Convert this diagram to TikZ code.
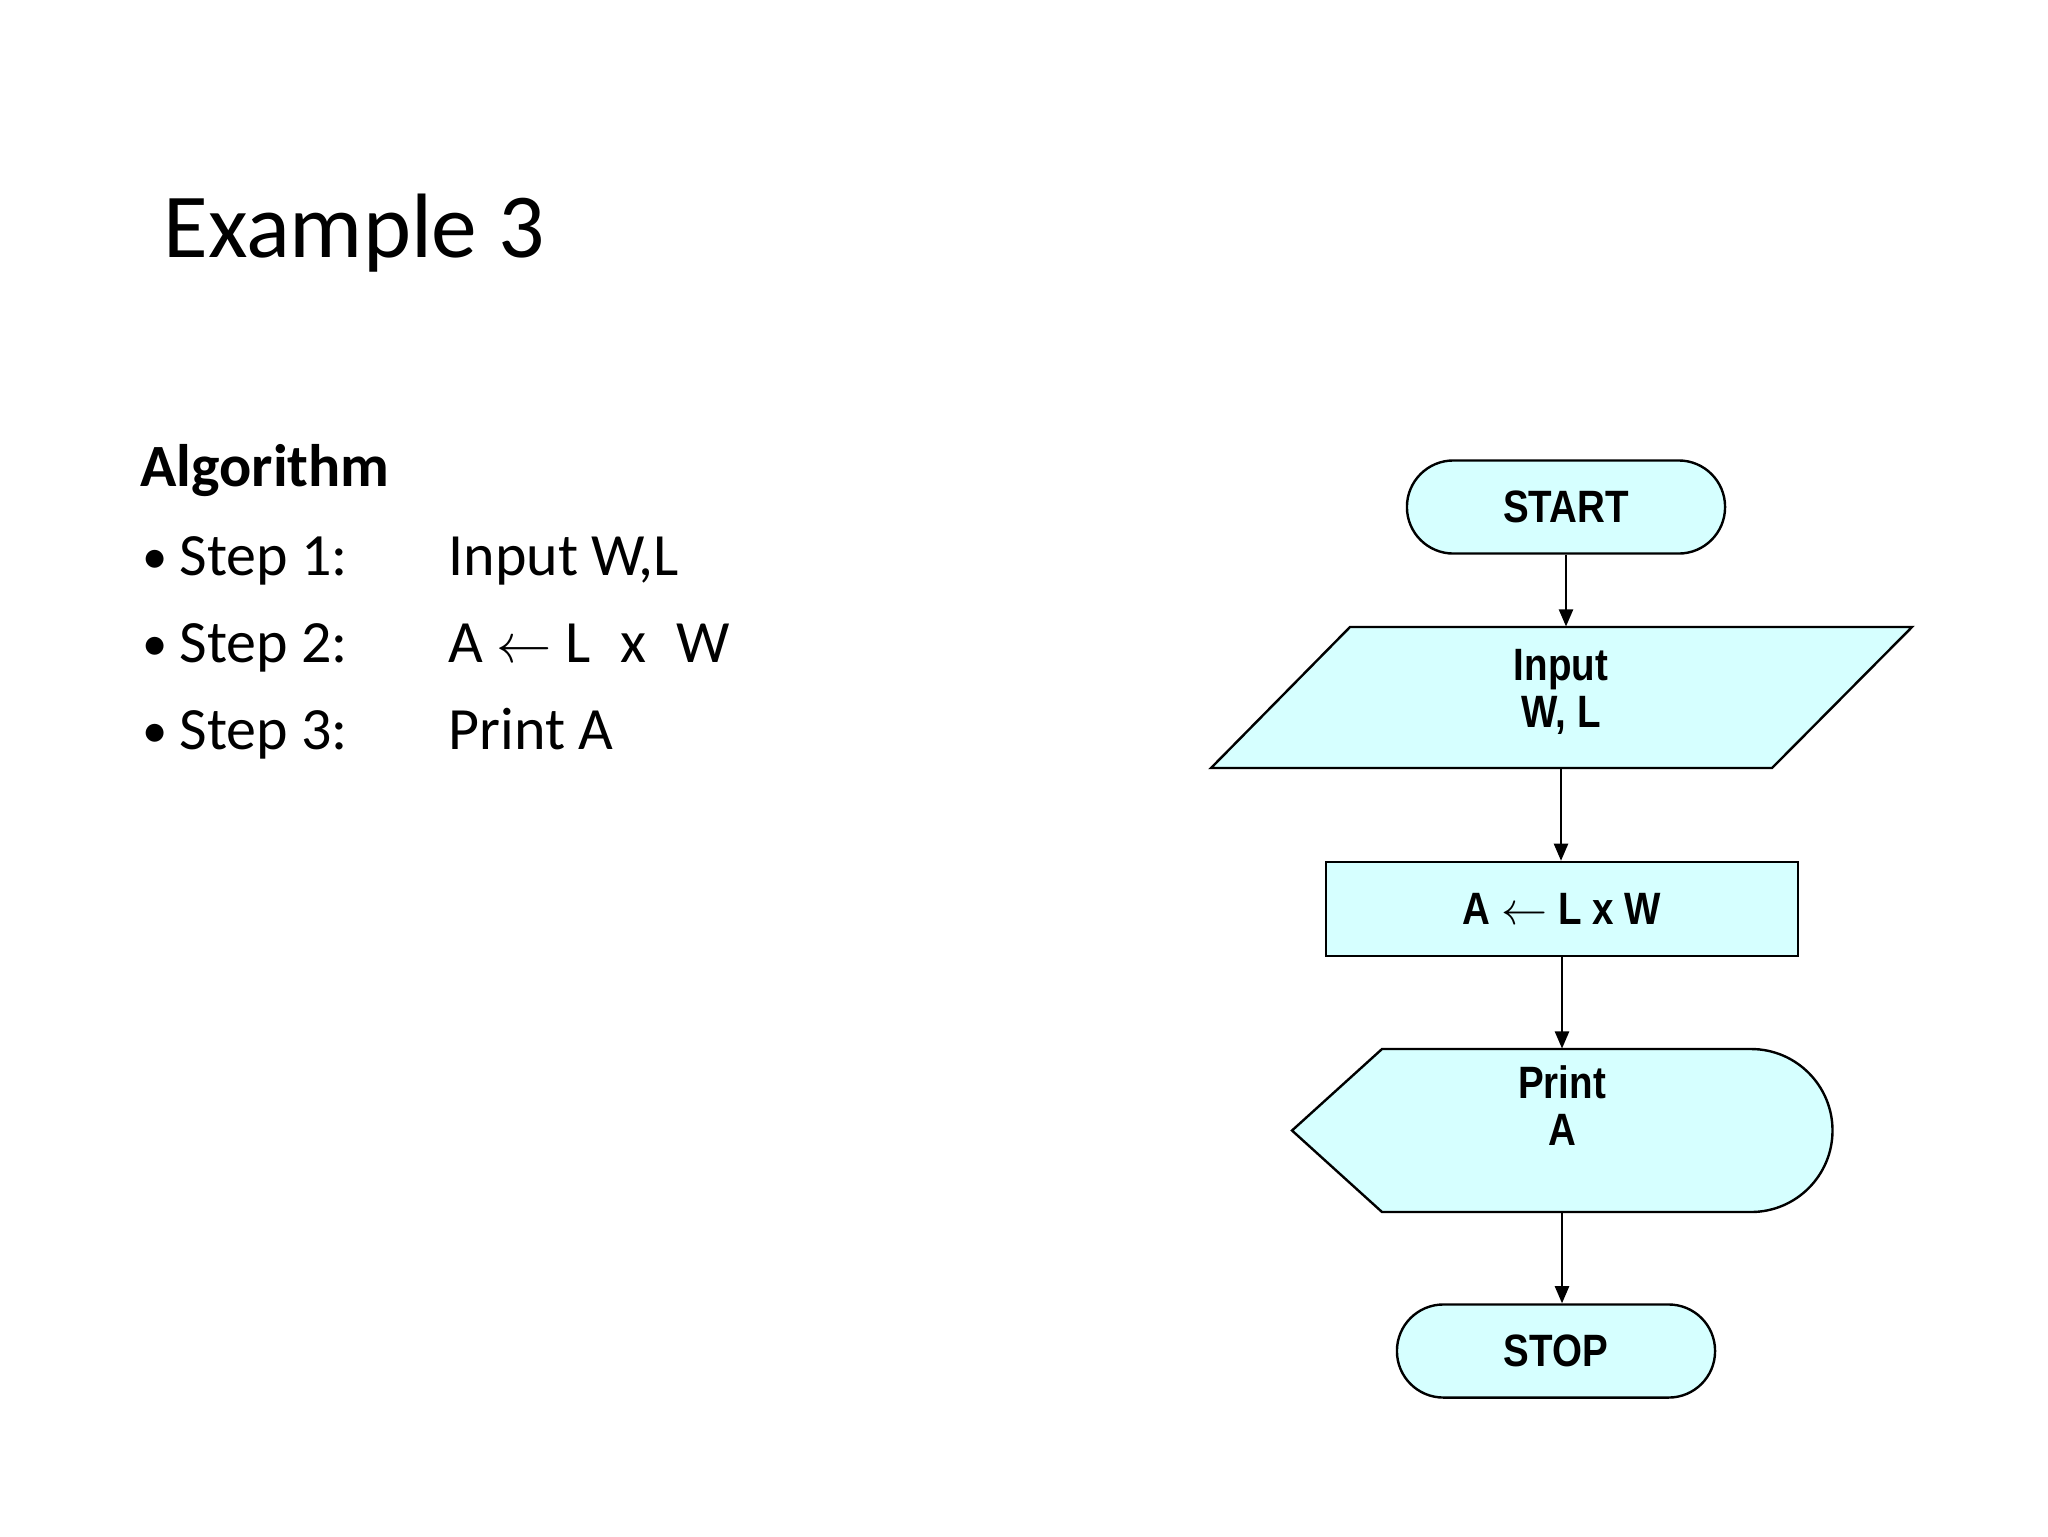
\documentclass[tikz,border=0pt]{standalone}
\usepackage{fontspec}
\setmainfont{Carlito}
\newfontfamily\chartfont[FakeStretch=0.85]{Liberation Sans}
\usetikzlibrary{arrows.meta}
\definecolor{boxfill}{RGB}{214,255,255}
\tikzset{
  chartfont/.style={font=\chartfont\bfseries\fontsize{17}{17.6}\selectfont},
  chart/.style={draw, line width=0.9pt, fill=boxfill, align=center, chartfont},
  terminal/.style={chart, rounded corners=17.4pt, minimum width=119.3pt, minimum height=34.9pt},
  process/.style={chart, rectangle, minimum width=177pt, minimum height=35.3pt},
  outline/.style={line width=0.9pt, fill=boxfill},
  flow/.style={line width=0.75pt, -{Triangle[length=6.4pt,width=5.3pt]}},
  slide/.style={anchor=base west, inner sep=0pt}
}
\begin{document}
\begin{tikzpicture}[x=0.375pt, y=-0.375pt]
  \fill[white] (0,0) rectangle (2048,1536);
  \useasboundingbox (0,0) rectangle (2048,1536);

  % slide text
  \node[slide, font=\fontsize{34.3}{41}\selectfont] (title) at (163,257) {Example 3};
  \node[slide, font=\bfseries\fontsize{22.5}{27}\selectfont] (algo) at (140,486) {Algorithm};
  \foreach \n/\t/\y in {1/{Input W,L}/575, 2/{A $\leftarrow$ L\enspace x\enspace W}/662, 3/{Print A}/749} {
    \node[slide, font=\fontsize{19}{23}\selectfont] (bullet\n) at (142,\y-2) {•};
    \node[slide, font=\fontsize{22.5}{27}\selectfont] (step\n) at (179,\y) {Step \n:};
    \node[slide, font=\fontsize{22.5}{27}\selectfont] (act\n) at (448,\y) {\t};
  }

  % flowchart
  \node[terminal] (start) at (1566,507) {START};
  \filldraw[outline] (1350,627) -- (1912,627) -- (1772,768) -- (1211,768) -- cycle;
  \node[inner sep=0pt, minimum width=210pt, minimum height=52.9pt] (input) at (1561,697.5) {};
  \node[align=center, chartfont] (inputtext) at (1561,692) {Input\\W, L};
  \node[process] (calc) at (1562,909) {A $\leftarrow$ L x W};
  \filldraw[outline] (1382,1049) -- (1751,1049) arc (-90:90:81.5)
    -- (1382,1212) -- (1292,1130.5) -- cycle;
  \node[inner sep=0pt, minimum width=201pt, minimum height=61.1pt] (print) at (1562,1130.5) {};
  \node[align=center, chartfont] (printtext) at (1562,1106) {Print\\A};
  \node[terminal] (stop) at (1556,1351) {STOP};

  \draw[flow] (start) -- (start |- input.north);
  \draw[flow] (input) -- (input |- calc.north);
  \draw[flow] (calc.south) -- (calc.south |- print.north);
  \draw[flow] (print.south) -- (print.south |- stop.north);
\end{tikzpicture}
\end{document}
